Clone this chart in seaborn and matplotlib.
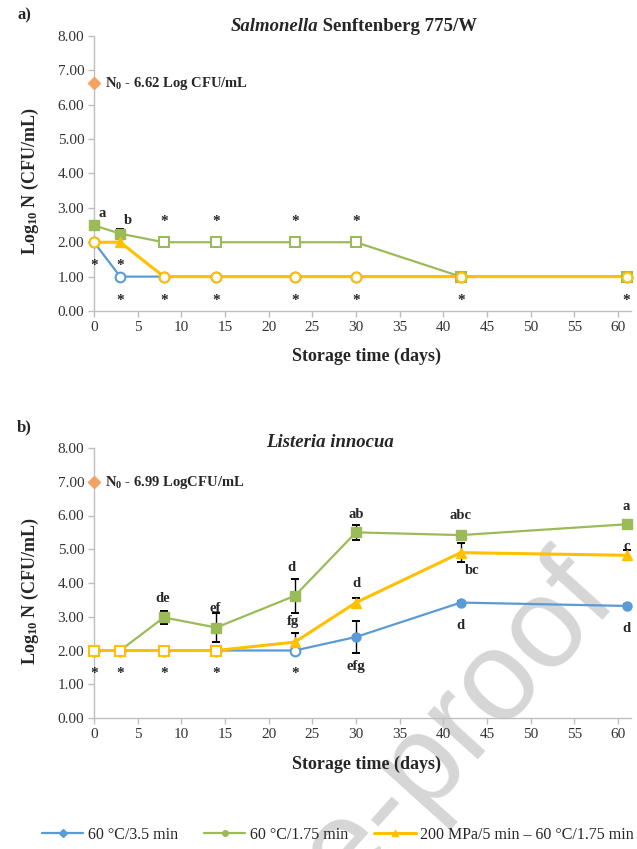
import matplotlib
matplotlib.use('Agg')
import matplotlib.pyplot as plt
from matplotlib.lines import Line2D
import numpy as np
import pandas as pd
import seaborn as sns

# storage days and treatments
days = [0, 3, 8, 14, 23, 30, 42, 61]
treatments = ['60 °C/3.5 min', '60 °C/1.75 min', '200 MPa/5 min – 60 °C/1.75 min']

# a) Salmonella Senftenberg 775/W
sal_t35 = [2.00, 1.00, 1.00, 1.00, 1.00, 1.00, 1.00, 1.00]
sal_t175 = [2.49, 2.25, 2.00, 2.00, 2.00, 2.00, 1.00, 1.00]
sal_hpp = [2.00, 2.00, 1.00, 1.00, 1.00, 1.00, 1.00, 1.00]
sal_err_t35 = [0, 0, 0, 0, 0, 0, 0, 0]
sal_err_t175 = [0, 0.13, 0, 0, 0, 0, 0, 0]
sal_err_hpp = [0, 0, 0, 0, 0, 0, 0, 0]
# filled marker = counts above detection limit
sal_fill_t35 = [False, False, False, False, False, False, False, False]
sal_fill_t175 = [True, True, False, False, False, False, False, False]
sal_fill_hpp = [False, True, False, False, False, False, False, False]
sal_n0 = 6.62
sal_letters = [(0.9, 2.83, 'a'), (3.9, 2.64, 'b')]
sal_stars = [(8, 2.69), (14, 2.69), (23, 2.69), (30, 2.69),
             (0, 1.43), (3, 1.43),
             (3, 0.42), (8, 0.42), (14, 0.42), (23, 0.42), (30, 0.42), (42, 0.42), (61, 0.42)]

# b) Listeria innocua
lis_t35 = [2.00, 2.00, 2.00, 2.00, 2.00, 2.40, 3.42, 3.32]
lis_t175 = [2.00, 2.00, 2.98, 2.68, 3.62, 5.50, 5.42, 5.74]
lis_hpp = [2.00, 2.00, 2.00, 2.00, 2.25, 3.42, 4.90, 4.82]
lis_err_t35 = [0, 0, 0, 0, 0, 0.47, 0.05, 0.05]
lis_err_t175 = [0, 0, 0.18, 0.42, 0.50, 0.22, 0.05, 0.05]
lis_err_hpp = [0, 0, 0, 0, 0.27, 0.13, 0.28, 0.15]
lis_fill_t35 = [False, False, False, False, False, True, True, True]
lis_fill_t175 = [False, False, True, True, True, True, True, True]
lis_fill_hpp = [False, False, False, False, True, True, True, True]
lis_n0 = 6.99
lis_letters = [(7.9, 3.55, 'de'), (13.9, 3.25, 'ef'), (22.6, 4.46, 'd'), (22.8, 2.85, 'fg'),
               (30, 6.04, 'ab'), (30, 3.99, 'd'), (30, 1.52, 'efg'),
               (42, 5.99, 'abc'), (43.3, 4.38, 'bc'), (42, 2.73, 'd'),
               (61, 6.26, 'a'), (61, 5.08, 'c'), (61, 2.66, 'd')]
lis_stars = [(0, 1.42), (3, 1.42), (8, 1.42), (14, 1.42), (23, 1.42)]

sns.set_theme(style='ticks')
plt.rcParams['font.family'] = ['Liberation Serif', 'DejaVu Serif']
plt.rcParams['mathtext.fontset'] = 'custom'
plt.rcParams['mathtext.rm'] = 'Liberation Serif'
plt.rcParams['mathtext.bf'] = 'Liberation Serif:bold'
plt.rcParams['mathtext.it'] = 'Liberation Serif:italic'

colors = ['#5b9bd5', '#9bbb59', '#ffc000']
markers = ['o', 's', '^']


def long_frame(series):
    rows = []
    for name, vals in zip(treatments, series):
        for d, v in zip(days, vals):
            rows.append({'day': d, 'logN': v, 'treatment': name})
    return pd.DataFrame(rows)


def draw_panel(ax, series, errs, fills, open_markers, n0, n0_text, letters, stars):
    df = long_frame(series)
    sns.lineplot(data=df, x='day', y='logN', hue='treatment', hue_order=treatments,
                 palette=colors, ax=ax, legend=False, linewidth=1.6, sort=False, zorder=2)
    ax.lines[2].set_linewidth(2.2)
    for i, (vals, err, fill) in enumerate(zip(series, errs, fills)):
        e = np.array(err, dtype=float)
        ax.errorbar(days, vals, yerr=np.where(e > 0, e, np.nan), fmt='none', ecolor='black',
                    elinewidth=1.0, capsize=3, capthick=1.4, zorder=3)
        for d, v, f in zip(days, vals, fill):
            if f:
                ax.plot(d, v, marker=markers[i], ms=6.5, color=colors[i], mec=colors[i],
                        zorder=4 + i, clip_on=False)
            else:
                ax.plot(d, v, marker=open_markers[i], ms=7, mfc='white', mec=colors[i],
                        mew=1.5, zorder=4 + i, clip_on=False)

    ax.plot(0, n0, marker='D', ms=6.5, color='#f4a261', mec='#f4a261', zorder=6, clip_on=False)
    ax.text(1.3, n0, n0_text, fontsize=10.5, fontweight='bold', va='center', ha='left')

    for x, y, s in letters:
        ax.text(x, y, s, fontsize=10.5, fontweight='bold', ha='center', va='center', zorder=8)
    for x, y in stars:
        ax.text(x, y - 0.1, '*', fontsize=11, fontweight='bold', ha='center', va='center', zorder=8)

    ax.set_xlim(0, 61.5)
    ax.set_ylim(0, 8)
    ax.set_xticks(range(0, 61, 5))
    ax.set_yticks(np.arange(0, 8.01, 1))
    ax.set_yticklabels([f'{v:.2f}' for v in np.arange(0, 8.01, 1)])
    ax.set_facecolor('none')
    sns.despine(ax=ax)
    for side in ['left', 'bottom']:
        ax.spines[side].set_color('#bfbfbf')
        ax.spines[side].set_linewidth(1.0)
    ax.tick_params(axis='both', color='#bfbfbf', length=4, width=1.0,
                   labelsize=11, labelcolor='#333333', pad=3)
    ax.set_xlabel('Storage time (days)', fontsize=13, fontweight='bold')
    ax.set_ylabel(r'Log$_{\mathbf{10}}$ N (CFU/mL)', fontsize=13, fontweight='bold')
    ax.yaxis.set_label_coords(-0.098, 0.47)


fig = plt.figure(figsize=(6.37, 8.49), dpi=100)

# watermark behind everything
fig.text(0.973, 0.291, 'Journal Pre-proof', rotation=48, rotation_mode='anchor',
         ha='right', va='baseline', fontsize=92, color='#d6d6d6',
         family=['Liberation Sans', 'DejaVu Sans'], zorder=-5)

ax_a = fig.add_axes([94 / 637, 1 - 311 / 849, 537 / 637, 275 / 849])
ax_b = fig.add_axes([94 / 637, 1 - 718 / 849, 537 / 637, 270 / 849])

draw_panel(ax_a, [sal_t35, sal_t175, sal_hpp], [sal_err_t35, sal_err_t175, sal_err_hpp],
           [sal_fill_t35, sal_fill_t175, sal_fill_hpp], ['o', 's', 'o'],
           sal_n0, r'N$_{\mathbf{0}}$ - 6.62 Log CFU/mL', sal_letters, sal_stars)
draw_panel(ax_b, [lis_t35, lis_t175, lis_hpp], [lis_err_t35, lis_err_t175, lis_err_hpp],
           [lis_fill_t35, lis_fill_t175, lis_fill_hpp], ['o', 's', 's'],
           lis_n0, r'N$_{\mathbf{0}}$ - 6.99 LogCFU/mL', lis_letters, lis_stars)

ax_a.xaxis.set_label_coords(0.507, -0.135)
ax_b.xaxis.set_label_coords(0.507, -0.141)

# titles
ax_a.text(0.417, 1.033, 'Salmonella', transform=ax_a.transAxes, fontsize=13.5,
          fontweight='bold', fontstyle='italic', ha='right', va='center')
ax_a.text(0.417, 1.033, ' Senftenberg 775/W', transform=ax_a.transAxes, fontsize=13.5,
          fontweight='bold', ha='left', va='center')
ax_b.text(0.44, 1.022, 'Listeria innocua', transform=ax_b.transAxes, fontsize=13.5,
          fontweight='bold', fontstyle='italic', ha='center', va='center')

fig.text(0.038, 1 - 15 / 849, 'a)', fontsize=12, fontweight='bold', ha='center', va='center')
fig.text(0.038, 1 - 427 / 849, 'b)', fontsize=12, fontweight='bold', ha='center', va='center')

handles = [Line2D([0], [0], color=c, marker=m, ms=4, lw=1.6) for c, m in zip(colors, ['D', 'o', '^'])]
handles[2].set_linewidth(2.2)
fig.legend(handles, treatments, loc='center', bbox_to_anchor=(338 / 637, 1 - 835 / 849),
           ncol=3, frameon=False, fontsize=11.5, handlelength=2.6, handletextpad=0.3,
           columnspacing=1.6)

fig.savefig('out.png', dpi=100)
